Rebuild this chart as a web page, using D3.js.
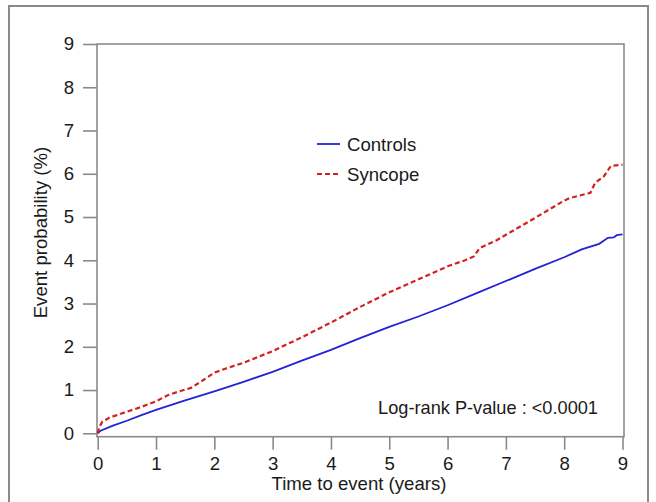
<!DOCTYPE html>
<html><head><meta charset="utf-8">
<script src="https://cdn.jsdelivr.net/npm/d3@7"></script>
<style>body{margin:0;background:#fff}svg{display:block}text{font-family:"Liberation Sans",Arial,sans-serif;fill:#1a1a1a}</style>
</head><body><svg id="c" width="656" height="502"></svg>
<script>
const controlsTime = [0,0.05,0.25,0.5,0.75,1,1.5,2,2.5,3,3.5,4,4.5,5,5.5,6,6.5,7,7.5,8,8.3,8.6,8.75,8.85,8.9,9];
const controlsProb = [0,0.06,0.17,0.29,0.42,0.54,0.76,0.97,1.19,1.42,1.68,1.93,2.2,2.46,2.7,2.96,3.24,3.52,3.8,4.07,4.25,4.38,4.52,4.53,4.58,4.6];
const syncopeTime = [0,0.03,0.08,0.2,0.5,0.75,1,1.2,1.4,1.6,1.8,2,2.2,2.5,3,3.5,4,4.5,5,5.5,6,6.3,6.45,6.55,6.85,7.4,8,8.1,8.45,8.53,8.68,8.8,9];
const syncopeProb = [0,0.15,0.27,0.36,0.5,0.61,0.74,0.88,0.97,1.05,1.22,1.4,1.5,1.63,1.9,2.22,2.56,2.92,3.26,3.56,3.86,4.0,4.09,4.28,4.47,4.9,5.38,5.44,5.56,5.79,5.94,6.18,6.21];
const xTicks = [0,1,2,3,4,5,6,7,8,9];
const yTicks = [0,1,2,3,4,5,6,7,8,9];
const seriesNames = ["Controls","Syncope"];

const svg = d3.select("#c");
const grey = "#8a8a8a";
const fs = "18.6px";
svg.append("rect").attr("x",9).attr("y",6).attr("width",639).attr("height",510)
  .attr("fill","none").attr("stroke",grey).attr("stroke-width",2);

const x = d3.scaleLinear().domain([0,9]).range([97.7,622.5]);
const y = d3.scaleLinear().domain([0,9]).range([433.3,44]);

svg.append("rect").attr("x",97).attr("y",44).attr("width",527).attr("height",392.7)
  .attr("fill","none").attr("stroke",grey).attr("stroke-width",1.6);

const yAxis = svg.append("g").attr("transform","translate(97,0)")
  .call(d3.axisLeft(y).tickValues(yTicks).tickSize(14).tickPadding(9).tickFormat(d3.format("d")));
yAxis.select(".domain").remove();
yAxis.selectAll("line").attr("stroke",grey).attr("stroke-width",1.6);
yAxis.selectAll("text").style("font-size",fs).style("font-family","'Liberation Sans',Arial,sans-serif").attr("fill","#1a1a1a");

const xAxis = svg.append("g").attr("transform","translate(0,436.7)")
  .call(d3.axisBottom(x).tickValues(xTicks).tickSize(13).tickPadding(7).tickFormat(d3.format("d")));
xAxis.select(".domain").remove();
xAxis.selectAll("line").attr("stroke",grey).attr("stroke-width",1.6);
xAxis.selectAll("text").style("font-size",fs).style("font-family","'Liberation Sans',Arial,sans-serif").attr("fill","#1a1a1a");

svg.append("text").attr("x",359).attr("y",490).attr("text-anchor","middle")
  .style("font-size",fs).text("Time to event (years)");
svg.append("text").attr("transform","translate(47,232.5) rotate(-90)").attr("text-anchor","middle")
  .style("font-size",fs).text("Event probability (%)");

const line = d3.line().x(d=>x(d[0])).y(d=>y(d[1]));
const cData = controlsTime.map((t,i)=>[t,controlsProb[i]]);
const sData = syncopeTime.map((t,i)=>[t,syncopeProb[i]]);
svg.append("path").datum(cData).attr("d",line).attr("fill","none")
  .attr("stroke","#2323d6").attr("stroke-width",1.8);
svg.append("path").datum(sData).attr("d",line).attr("fill","none")
  .attr("stroke","#d42020").attr("stroke-width",2.2).attr("stroke-dasharray","5,3");

const leg = [{name:seriesNames[0],color:"#2323d6",dash:null,y:144},{name:seriesNames[1],color:"#d42020",dash:"5,3",y:174}];
leg.forEach(l=>{
  svg.append("line").attr("x1",317).attr("x2",340).attr("y1",l.y).attr("y2",l.y)
    .attr("stroke",l.color).attr("stroke-width",l.dash?2.2:1.8).attr("stroke-dasharray",l.dash);
  svg.append("text").attr("x",347).attr("y",l.y+6.5).style("font-size",fs).text(l.name);
});

svg.append("text").attr("x",598).attr("y",414).attr("text-anchor","end")
  .style("font-size","18.2px").text("Log-rank P-value : <0.0001");
</script></body></html>
